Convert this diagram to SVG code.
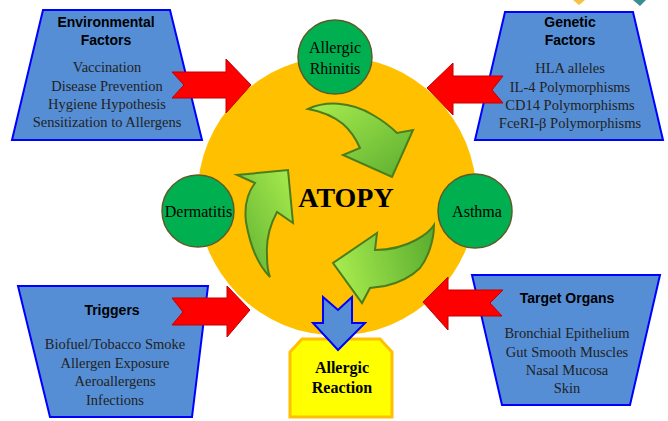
<svg xmlns="http://www.w3.org/2000/svg" width="668" height="421" viewBox="0 0 668 421">
<style>
.box{fill:#558ed5;stroke:#0000ff;stroke-width:2;stroke-linejoin:miter}
.red{fill:#ff0000;stroke:#c00000;stroke-width:1}
.gc{fill:#00b050;stroke:#5b5b2a;stroke-width:1.5}
.ga{stroke:#4a7d1e;stroke-width:2;stroke-linejoin:miter}
.hd{font-family:"Liberation Sans",Arial,sans-serif;font-weight:bold;font-size:14px;fill:#000;text-anchor:middle}
.it{font-family:"Liberation Serif","Times New Roman",serif;font-size:14.5px;fill:#222;text-anchor:middle}
.ct{font-family:"Liberation Serif","Times New Roman",serif;font-size:16px;fill:#000;text-anchor:middle}
</style>
<defs>
<linearGradient id="g1" x1="0" y1="0" x2="1" y2="1"><stop offset="0" stop-color="#a8ec4e"/><stop offset="1" stop-color="#5cae30"/></linearGradient>
<linearGradient id="g2" x1="1" y1="0" x2="0" y2="1"><stop offset="0" stop-color="#a8ec4e"/><stop offset="1" stop-color="#5cae30"/></linearGradient>
<linearGradient id="g3" x1="0" y1="0.5" x2="1" y2="0.3"><stop offset="0" stop-color="#a8ec4e"/><stop offset="1" stop-color="#5cae30"/></linearGradient>
</defs>
<rect width="668" height="421" fill="#ffffff"/>
<polygon points="573,0 585,0 579,5" fill="#f5c242"/>
<polygon points="633,0 646,0 640,6" fill="#3a8f8f"/>

<g id="atopy">
<circle cx="337" cy="196" r="139.5" fill="#ffc000"/>
<text x="346" y="207" font-family="'Liberation Serif','Times New Roman',serif" font-weight="bold" font-size="28" text-anchor="middle" fill="#000">ATOPY</text>
</g>

<g id="cycle-arrows">
<path class="ga" fill="url(#g1)" d="M308,109 C325,101 350,101 373,115 C385,122 392,128 397,133 L413,130 L392,177 L343,155 L360,148 C355,137 350,130 343,124 C333,116 320,111 308,109 Z"/>
<path class="ga" fill="url(#g2)" d="M270,277 C258,265 250,245 246,222 C244,205 248,192 255,183 L237,175 L288,170 L293,223 L277,212 C270,225 266,240 267,255 C267,265 268,272 270,277 Z"/>
<path class="ga" fill="url(#g3)" d="M434,225 C434,240 428,258 420,268 C410,278 398,283 385,286 L370,288 L362,303 L333,263 L377,233 L375,250 C390,250 405,246 416,240 C425,235 431,230 434,225 Z"/>
</g>

<g id="allergic-rhinitis">
<circle class="gc" cx="335" cy="57" r="37"/>
<text class="ct" x="335" y="53">Allergic</text>
<text class="ct" x="335" y="74">Rhinitis</text>
</g>
<g id="dermatitis">
<circle class="gc" cx="198" cy="211" r="36"/>
<text class="ct" x="198.5" y="217">Dermatitis</text>
</g>
<g id="asthma">
<circle class="gc" cx="475" cy="211" r="37"/>
<text class="ct" x="477" y="217">Asthma</text>
</g>

<g id="environmental-factors">
<polygon class="box" points="43,10 170,10 202,140 12,140"/>
<text class="hd" x="106" y="27">Environmental</text>
<text class="hd" x="106" y="45">Factors</text>
<text class="it" x="107" y="72">Vaccination</text>
<text class="it" x="107" y="90.5">Disease Prevention</text>
<text class="it" x="107" y="108.5">Hygiene Hypothesis</text>
<text class="it" x="107" y="127">Sensitization to Allergens</text>
</g>

<g id="genetic-factors">
<polygon class="box" points="505,12 633,12 663,140 475,140"/>
<text class="hd" x="570" y="27">Genetic</text>
<text class="hd" x="570" y="45">Factors</text>
<text class="it" x="570" y="73">HLA alleles</text>
<text class="it" x="570" y="91.5">IL-4 Polymorphisms</text>
<text class="it" x="570" y="110">CD14 Polymorphisms</text>
<text class="it" x="570" y="128">FceRI-β Polymorphisms</text>
</g>

<g id="triggers">
<polygon class="box" points="18,286 208,286 192,417 50,417"/>
<text class="hd" x="112" y="315">Triggers</text>
<text class="it" x="115" y="349">Biofuel/Tobacco Smoke</text>
<text class="it" x="115" y="367.5">Allergen Exposure</text>
<text class="it" x="115" y="386">Aeroallergens</text>
<text class="it" x="115" y="404.5">Infections</text>
</g>

<g id="target-organs">
<polygon class="box" points="472,275 660,275 630,405 502,405"/>
<text class="hd" x="567" y="303">Target Organs</text>
<text class="it" x="567" y="338">Bronchial Epithelium</text>
<text class="it" x="567" y="356.5">Gut Smooth Muscles</text>
<text class="it" x="567" y="375">Nasal Mucosa</text>
<text class="it" x="567" y="393">Skin</text>
</g>

<g id="allergic-reaction">
<polygon points="302,339 380,339 392,352 392,417 290,417 290,352" fill="#ffff00" stroke="#ffc000" stroke-width="3"/>
<text x="342" y="373" font-family="'Liberation Serif','Times New Roman',serif" font-weight="bold" font-size="16" text-anchor="middle" fill="#000">Allergic</text>
<text x="342" y="393" font-family="'Liberation Serif','Times New Roman',serif" font-weight="bold" font-size="16" text-anchor="middle" fill="#000">Reaction</text>
</g>

<g id="connectors">
<polygon class="red" points="172,72 226,72 226,59 251,85 226,113 226,98 172,98 184,85"/>
<polygon class="red" points="427,88 453,63 453,76 503,76 492,90 503,103 453,103 453,115"/>
<polygon class="red" points="172,298 227,298 227,286 250,310 227,337 227,325 172,325 183,312"/>
<polygon class="red" points="423,302 448,277 448,290 503,290 490,303 502,316 448,316 448,330"/>
<polygon points="323,297 338,310 352,297 352,323 365,323 338,350 313,323 323,323" fill="#558ed5" stroke="#0000ff" stroke-width="2"/>
</g>
</svg>
